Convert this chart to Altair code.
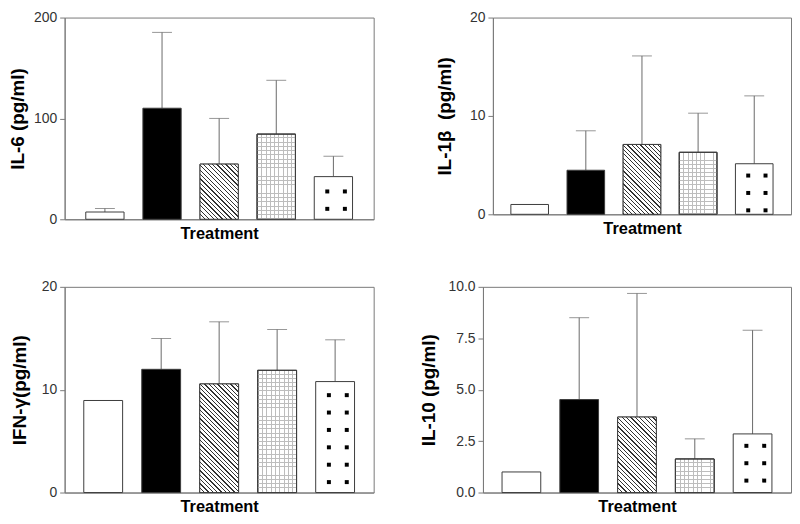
import altair as alt
import pandas as pd

# ---------------- data ----------------
groups = ["Group 1", "Group 2", "Group 3", "Group 4", "Group 5"]

il6_mean = [7.2, 110.1, 54.7, 84.4, 42.3]
il6_upper = [10.7, 185.3, 100.0, 137.8, 62.5]
il6_ticks = [0, 100, 200]

il1b_mean = [1.0, 4.48, 7.1, 6.3, 5.14]
il1b_upper = [None, 8.49, 16.1, 10.28, 12.04]
il1b_ticks = [0, 10, 20]

ifng_mean = [8.95, 11.98, 10.56, 11.88, 10.79]
ifng_upper = [None, 14.98, 16.6, 15.85, 14.85]
ifng_ticks = [0, 10, 20]

il10_mean = [1.0, 4.52, 3.67, 1.63, 2.85]
il10_upper = [None, 8.5, 9.68, 2.61, 7.89]
il10_ticks = [0, 2.5, 5.0, 7.5, 10.0]

# ---------------- style ----------------
FONT = "Liberation Sans"
AXIS_COLOR = "#7a7a7a"
BAR_EDGE = "#3c3c3c"
ERR_COLOR = "#6a6a6a"
HATCH_COLOR = "#333333"
GRID_COLOR = "#bdbdbd"
PAD_INNER = 0.33


def stripes(n, frac, line_color, gap_color):
    stops = []
    for k in range(n):
        a, b, c = k / n, (k + frac) / n, (k + 1) / n
        stops += [
            {"offset": a, "color": line_color},
            {"offset": b, "color": line_color},
            {"offset": b, "color": gap_color},
            {"offset": c, "color": gap_color},
        ]
    return stops


def hatch_fill(wpx, hpx, spacing=4.4, frac=0.28):
    n = max(1, round((wpx + hpx) / spacing))
    s = (wpx + hpx) / (wpx ** 2 + hpx ** 2)
    return {
        "gradient": "linear",
        "x1": 0, "y1": 1, "x2": wpx * s, "y2": 1 - hpx * s,
        "stops": stripes(n, frac, HATCH_COLOR, "white"),
    }


def vgrid_fill(wpx, spacing=4.3):
    n = max(1, round(wpx / spacing))
    return {"gradient": "linear", "x1": 0, "y1": 0, "x2": 1, "y2": 0,
            "stops": stripes(n, 0.22, GRID_COLOR, "white")}


def hgrid_fill(hpx, spacing=4.3):
    n = max(1, round(hpx / spacing))
    return {"gradient": "linear", "x1": 0, "y1": 1, "x2": 0, "y2": 0,
            "stops": stripes(n, 0.22, GRID_COLOR, "rgba(255,255,255,0)")}


def panel(mean, upper, ymax, ticks, ytitle, w, h, pad_outer, title_pad, dot_offset, fmt):
    step = w / (5 - PAD_INNER + 2 * pad_outer)
    bw = step * (1 - PAD_INNER)
    df = pd.DataFrame({"group": groups, "mean": mean, "upper": upper})

    xscale = alt.Scale(domain=groups, paddingInner=PAD_INNER, paddingOuter=pad_outer)
    xaxis = alt.Axis(title="Treatment", labels=False, ticks=False, domain=True,
                     titlePadding=6)
    yscale = alt.Scale(domain=[0, ymax], nice=False, zero=True)
    yaxis = alt.Axis(title=ytitle, values=ticks, format=fmt, grid=False,
                     titlePadding=title_pad)

    def X(**kw):
        return alt.X("group:N", scale=xscale, axis=xaxis, **kw)

    def Y(field):
        return alt.Y(field, scale=yscale, axis=yaxis)

    base = alt.Chart(df)
    bars = base.mark_bar(stroke=BAR_EDGE, strokeWidth=1).encode(
        x=X(), y=Y("mean:Q"),
        fill=alt.Fill("group:N", scale=alt.Scale(domain=groups,
                      range=["white", "black", "white", "white", "white"]), legend=None),
    )

    hpx = [m / ymax * h for m in mean]
    hatch = base.transform_filter(alt.datum.group == groups[2]).mark_bar(
        fill=hatch_fill(bw, hpx[2]), stroke=BAR_EDGE, strokeWidth=1
    ).encode(x=X(), y=Y("mean:Q"))
    grid_v = base.transform_filter(alt.datum.group == groups[3]).mark_bar(
        fill=vgrid_fill(bw), stroke=BAR_EDGE, strokeWidth=1
    ).encode(x=X(), y=Y("mean:Q"))
    grid_h = base.transform_filter(alt.datum.group == groups[3]).mark_bar(
        fill=hgrid_fill(hpx[3]), stroke=BAR_EDGE, strokeWidth=1
    ).encode(x=X(), y=Y("mean:Q"))

    # dot pattern rows for the last bar (pattern spacing ~17.5 px)
    rows = []
    r = dot_offset
    while r <= hpx[4] - 6:
        rows.append(r * ymax / h)
        r += 17.5
    dots_df = pd.DataFrame({"group": [groups[4]] * len(rows), "y": rows})
    dots = alt.Chart(dots_df)
    dots_l = dots.mark_square(size=16, color="black", opacity=1).encode(
        x=X(bandPosition=0.34), y=Y("y:Q"))
    dots_r = dots.mark_square(size=16, color="black", opacity=1).encode(
        x=X(bandPosition=0.80), y=Y("y:Q"))

    err = base.transform_filter("isValid(datum.upper)")
    rule = err.mark_rule(color=ERR_COLOR, strokeWidth=1).encode(
        x=X(), y=Y("mean:Q"), y2="upper:Q")
    cap = err.mark_tick(color=ERR_COLOR, size=20, thickness=1).encode(
        x=X(), y=Y("upper:Q"))

    return alt.layer(rule, cap, bars, hatch, grid_v, grid_h, dots_l, dots_r).properties(
        width=w, height=h)


pA = panel(il6_mean, il6_upper, 200, il6_ticks, "IL-6 (pg/ml)", 311, 203, 0.37, 6, 10.5, "d")
pB = panel(il1b_mean, il1b_upper, 20, il1b_ticks, "IL-1β\u00a0 (pg/ml)", 300, 198, 0.32, 15, 4, "d")
pC = panel(ifng_mean, ifng_upper, 20, ifng_ticks, "IFN-γ(pg/ml)", 311, 207, 0.33, 12, 10.5, "d")
pD = panel(il10_mean, il10_upper, 10, il10_ticks, "IL-10 (pg/ml)", 310, 207, 0.33, 10, 12, ".1f")

top = alt.hconcat(pA, pB, spacing=60)
bottom = alt.hconcat(pC, pD, spacing=44)

chart = alt.vconcat(top, bottom, spacing=37).properties(
    padding={"left": 0, "top": 0, "right": 0, "bottom": 0}
).configure(
    font=FONT,
).configure_view(
    stroke=AXIS_COLOR, strokeWidth=1,
).configure_axis(
    domainColor=AXIS_COLOR, tickColor=AXIS_COLOR, tickSize=5, labelPadding=3,
    labelFont=FONT, labelFontSize=14, labelColor="#333333",
    titleFont=FONT, titleFontWeight="bold", titleColor="black",
).configure_axisY(
    titleFontSize=19,
).configure_axisX(
    titleFontSize=16.5,
)

chart.save("out.html", embed_options={"renderer": "svg", "actions": False})
